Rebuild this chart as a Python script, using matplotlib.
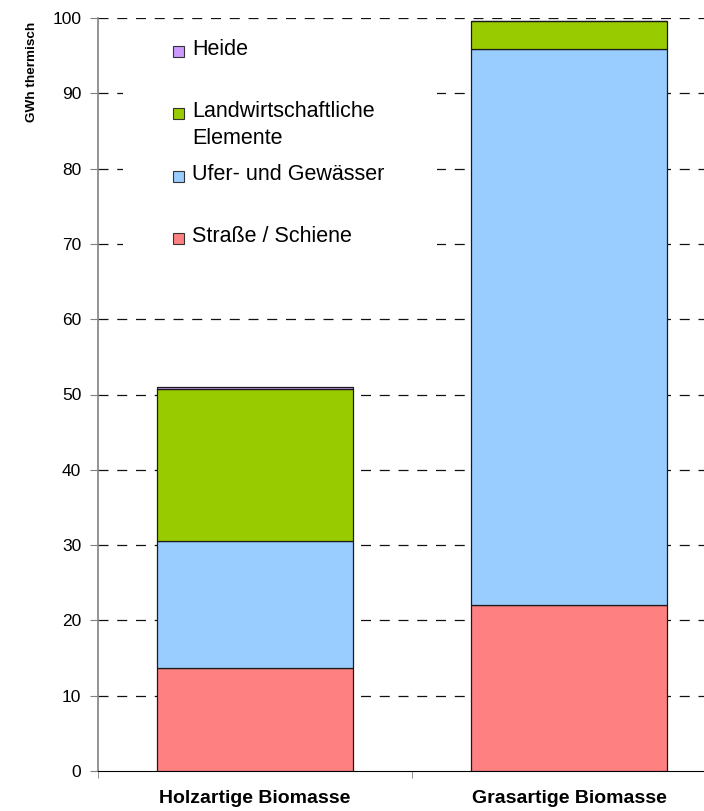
import matplotlib
matplotlib.use("Agg")
import matplotlib.pyplot as plt
from matplotlib.patches import Rectangle
import numpy as np

plt.rcParams['font.family'] = ['Liberation Sans', 'DejaVu Sans']

categories = ["Holzartige Biomasse", "Grasartige Biomasse"]
series_names = ["Straße / Schiene", "Ufer- und Gewässer", "Landwirtschaftliche\nElemente", "Heide"]
strasse = [13.7, 22.0]
ufer = [16.8, 73.9]
landw = [20.2, 3.7]
heide = [0.3, 0.0]
colors = ["#FF8080", "#99CCFF", "#99CC00", "#CC99FF"]
yticks = list(range(0, 101, 10))

W, H = 704, 811
fig = plt.figure(figsize=(W/100, H/100), dpi=100)
ax = fig.add_axes([98/W, 1 - 771/H, (726 - 98)/W, (771 - 18)/H])

x = np.arange(len(categories))
bottom = np.zeros(len(categories))
for vals, col in zip([strasse, ufer, landw, heide], colors):
    ax.bar(x, vals, width=0.625, bottom=bottom, color=col, edgecolor="#1a1a1a",
           linewidth=0.9, zorder=3)
    bottom += np.array(vals)

ax.set_xlim(-0.5, 1.5)
ax.set_ylim(0, 100)
ax.set_yticks(yticks)
ax.set_yticklabels([str(t) for t in yticks], fontsize=12.5)
for t in yticks[1:]:
    ax.axhline(t, color="#111111", linestyle=(0, (8, 7)), linewidth=0.9, zorder=1)

ax.set_xticks(x)
ax.set_xticklabels(categories, fontsize=14, fontweight="bold")
ax.tick_params(axis="x", which="major", length=0, pad=14)
ax.set_xticks([-0.5, 0.5, 1.5], minor=True)
ax.tick_params(axis="x", which="minor", length=5, color="#808080")
ax.tick_params(axis="y", length=6, color="#808080", pad=6)

for s in ["top", "right"]:
    ax.spines[s].set_visible(False)
ax.spines["left"].set_color("#808080")
ax.spines["left"].set_linewidth(1.2)
ax.spines["bottom"].set_color("black")

fig.text(32/W, 1 - 22/H, "GWh thermisch", rotation=90, va="top", ha="center",
         fontsize=9.7, fontweight="bold")

# legend (manual) with white background covering gridlines
fig.patches.append(Rectangle((123/W, 1 - 265/H), (437 - 123)/W, (265 - 21)/H,
                             facecolor="white", edgecolor="none",
                             transform=fig.transFigure, figure=fig, zorder=1))
leg_items = [("Heide", colors[3], 50), ("Landwirtschaftliche\nElemente", colors[2], 112),
             ("Ufer- und Gewässer", colors[1], 175), ("Straße / Schiene", colors[0], 237)]
for label, col, ypx in leg_items:
    yf = 1 - ypx/H
    fig.patches.append(Rectangle((173/W, yf - 7/H), 11/W, 11/H, facecolor=col,
                                 edgecolor="#333333", linewidth=0.8,
                                 transform=fig.transFigure, figure=fig, zorder=2))
    fig.text(192/W, yf + 11/H, label, va="top", ha="left", fontsize=15.5,
             linespacing=1.35, zorder=3)

fig.savefig("out.png", dpi=100)
